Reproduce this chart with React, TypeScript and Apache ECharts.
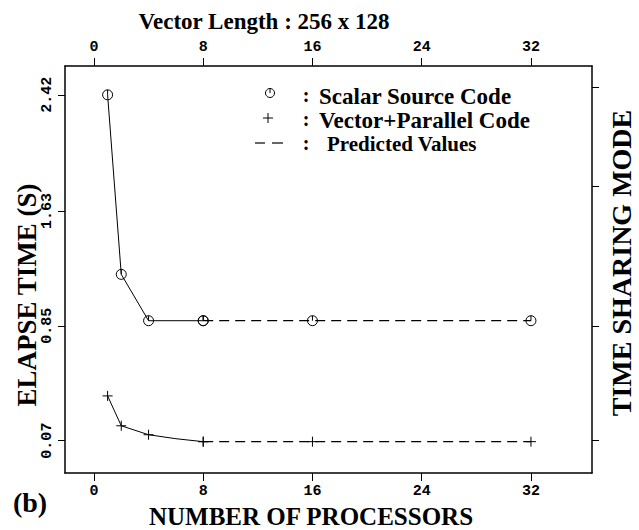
import React, { useEffect, useRef } from "react";
import * as echarts from "echarts";

const xTicks = [0, 8, 16, 24, 32];
const yTickValues = [0.07, 0.85, 1.63, 2.42];
const yRightTickValues = [0.07, 0.85, 1.8, 2.47];

const scalarProcessors = [1, 2, 4, 8];
const scalarTimes = [2.42, 1.2, 0.885, 0.885];
const predictedProcessors = [8, 16, 32];
const scalarPredicted = [0.885, 0.885, 0.885];

const vectorProcessors = [1, 2, 4, 6, 8];
const vectorTimes = [0.374, 0.171, 0.11, 0.083, 0.063];
const vectorMarked = [true, true, true, false, true];
const vectorPredicted = [0.063, 0.063, 0.063];

const CIRCLE_SYM = "path://M10,5 A5,5 0 1 1 0,5 A5,5 0 1 1 10,5 Z M5,0 L5,5";
const PLUS_SYM = "path://M5,0 L5,10 M0,5 L10,5";

const SERIF = "'Liberation Serif', 'Times New Roman', serif";
const MONO = "'Liberation Mono', 'DejaVu Sans Mono', monospace";

export default function App() {
  const ref = useRef<HTMLDivElement>(null);
  useEffect(() => {
    if (!ref.current) return;
    const chart = echarts.init(ref.current, null, { renderer: "svg" });
    const black = "#000";
    const xRange = { min: -2.12, max: 36.47 };
    const yRange = { min: -0.15, max: 2.616 };
    const symStyle = { color: "rgba(0,0,0,0)", borderColor: black, borderWidth: 1 };
    const tickLabel = { fontFamily: MONO, fontWeight: "bold" as const, fontSize: 15, color: black };

    const option: any = {
      animation: false,
      backgroundColor: "#fff",
      grid: { left: 65, top: 66, right: 47, bottom: 57, containLabel: false },
      xAxis: [
        {
          type: "value", position: "bottom", ...xRange,
          axisLine: { show: true, onZero: false, lineStyle: { color: black, width: 1.5 } },
          axisTick: { show: true, length: 8, customValues: xTicks, lineStyle: { color: black, width: 1 } },
          axisLabel: { ...tickLabel, margin: 11, customValues: xTicks, formatter: (v: number) => String(v) },
          splitLine: { show: false },
        },
        {
          type: "value", position: "top", ...xRange,
          axisLine: { show: true, onZero: false, lineStyle: { color: black, width: 1.5 } },
          axisTick: { show: true, length: 8, customValues: xTicks, lineStyle: { color: black, width: 1 } },
          axisLabel: { ...tickLabel, margin: 11, customValues: xTicks, formatter: (v: number) => String(v) },
          splitLine: { show: false },
        },
      ],
      yAxis: [
        {
          type: "value", position: "left", ...yRange,
          axisLine: { show: true, onZero: false, lineStyle: { color: black, width: 1.5 } },
          axisTick: { show: true, length: 7, customValues: yTickValues, lineStyle: { color: black, width: 1 } },
          axisLabel: { ...tickLabel, rotate: 90, margin: 10, customValues: yTickValues, formatter: (v: number) => v.toFixed(2) },
          splitLine: { show: false },
        },
        {
          type: "value", position: "right", ...yRange,
          axisLine: { show: true, onZero: false, lineStyle: { color: black, width: 1.5 } },
          axisTick: { show: true, length: 7, customValues: yRightTickValues, lineStyle: { color: black, width: 1 } },
          axisLabel: { show: false },
          splitLine: { show: false },
        },
      ],
      series: [
        {
          type: "line", xAxisIndex: 0, yAxisIndex: 0,
          data: scalarProcessors.map((x, i) => [x, scalarTimes[i]]),
          symbol: CIRCLE_SYM, symbolSize: 10, itemStyle: symStyle,
          lineStyle: { color: black, width: 1 },
        },
        {
          type: "line", xAxisIndex: 0, yAxisIndex: 0,
          data: predictedProcessors.map((x, i) => [x, scalarPredicted[i]]),
          symbol: CIRCLE_SYM, symbolSize: 10, itemStyle: symStyle,
          lineStyle: { color: black, width: 1.2, type: [10, 6] },
        },
        {
          type: "line", xAxisIndex: 0, yAxisIndex: 0,
          data: vectorProcessors.map((x, i) => ({
            value: [x, vectorTimes[i]],
            symbol: vectorMarked[i] ? PLUS_SYM : "none",
          })),
          symbol: PLUS_SYM, symbolSize: 10, itemStyle: symStyle,
          lineStyle: { color: black, width: 1 },
        },
        {
          type: "line", xAxisIndex: 0, yAxisIndex: 0,
          data: predictedProcessors.map((x, i) => [x, vectorPredicted[i]]),
          symbol: PLUS_SYM, symbolSize: 10, itemStyle: symStyle,
          lineStyle: { color: black, width: 1.2, type: [10, 6] },
        },
      ],
      graphic: [
        {
          type: "text", x: 264, y: 21,
          style: { text: "Vector Length : 256 x 128", font: `bold 23px ${SERIF}`, fill: black, align: "center", verticalAlign: "middle" },
        },
        {
          type: "text", x: 311, y: 516,
          style: { text: "NUMBER OF PROCESSORS", font: `bold 25px ${SERIF}`, fill: black, align: "center", verticalAlign: "middle" },
        },
        {
          type: "text", x: 27, y: 295, rotation: Math.PI / 2,
          style: { text: "ELAPSE TIME (S)", font: `bold 27px ${SERIF}`, fill: black, align: "center", verticalAlign: "middle" },
        },
        {
          type: "text", x: 621, y: 263, rotation: Math.PI / 2,
          style: { text: "TIME SHARING MODE", font: `bold 28px ${SERIF}`, fill: black, align: "center", verticalAlign: "middle" },
        },
        {
          type: "text", x: 30, y: 502,
          style: { text: "(b)", font: `bold 28px ${SERIF}`, fill: black, align: "center", verticalAlign: "middle" },
        },
        // legend
        { type: "circle", shape: { cx: 270, cy: 93, r: 4.5 }, style: { fill: "none", stroke: black, lineWidth: 1 } },
        { type: "line", shape: { x1: 270, y1: 88.5, x2: 270, y2: 93 }, style: { stroke: black, lineWidth: 1 } },
        { type: "line", shape: { x1: 263, y1: 118, x2: 273, y2: 118 }, style: { stroke: black, lineWidth: 1 } },
        { type: "line", shape: { x1: 268, y1: 113, x2: 268, y2: 123 }, style: { stroke: black, lineWidth: 1 } },
        { type: "line", shape: { x1: 255, y1: 143, x2: 265, y2: 143 }, style: { stroke: black, lineWidth: 1.2 } },
        { type: "line", shape: { x1: 272, y1: 143, x2: 283, y2: 143 }, style: { stroke: black, lineWidth: 1.2 } },
        { type: "text", x: 306, y: 95, style: { text: ":", font: `bold 20px ${SERIF}`, fill: black, align: "center", verticalAlign: "middle" } },
        { type: "text", x: 306, y: 119, style: { text: ":", font: `bold 20px ${SERIF}`, fill: black, align: "center", verticalAlign: "middle" } },
        { type: "text", x: 306, y: 143, style: { text: ":", font: `bold 20px ${SERIF}`, fill: black, align: "center", verticalAlign: "middle" } },
        { type: "text", x: 319, y: 96, style: { text: "Scalar Source Code", font: `bold 23px ${SERIF}`, fill: black, align: "left", verticalAlign: "middle" } },
        { type: "text", x: 319, y: 120, style: { text: "Vector+Parallel Code", font: `bold 23px ${SERIF}`, fill: black, align: "left", verticalAlign: "middle" } },
        { type: "text", x: 327, y: 144, style: { text: "Predicted Values", font: `bold 21px ${SERIF}`, fill: black, align: "left", verticalAlign: "middle" } },
      ],
    };
    chart.setOption(option);
    return () => chart.dispose();
  }, []);
  return <div ref={ref} style={{ position: "absolute", left: 0, top: 0, width: 639, height: 530 }} />;
}
